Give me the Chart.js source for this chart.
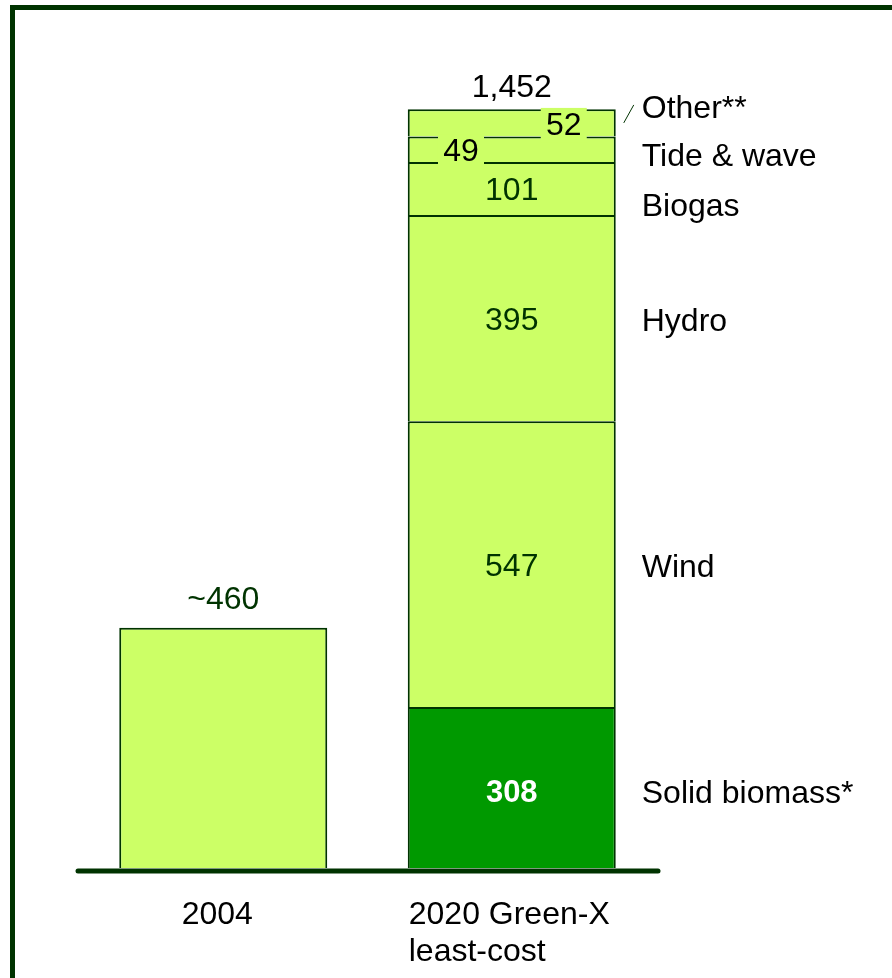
<!DOCTYPE html>
<html>
<head>
<meta charset="utf-8">
<script src="https://cdn.jsdelivr.net/npm/chart.js@4/dist/chart.umd.min.js"></script>
<style>
  html, body { margin: 0; padding: 0; background: #fff; overflow: hidden; }
  .frame {
    position: absolute; left: 10px; top: 5px;
    width: 900px; height: 1000px;
    border: 5px solid #003300;
  }
  #chart { position: absolute; left: 0; top: 0; }
</style>
</head>
<body>
<div class="frame"></div>
<canvas id="chart" width="892" height="978"></canvas>
<script>
// data
var categories = ["2004", ["2020 Green-X", "least-cost"]];
var total2004 = 460;
var sources = ["Solid biomass*", "Wind", "Hydro", "Biogas", "Tide & wave", "Other**"];
var values2020 = [308, 547, 395, 101, 49, 52];
var topLabels = ["~460", "1,452"];

var LIGHT = "#CCFF66";
var DARK = "#009900";
var LINE = "#003300";
var FONT = "32px 'Liberation Sans', Arial, sans-serif";

// nudges for the right-hand names (small segments are spread apart)
var nameShift = [7, 4, 4, 19, 8, -14];

var datasets = [{
    label: "2004",
    data: [total2004, null],
    backgroundColor: LIGHT
}];
sources.forEach(function(s, i) {
    datasets.push({
        label: s,
        data: [null, values2020[i]],
        backgroundColor: i === 0 ? DARK : LIGHT
    });
});
datasets.forEach(function(d) {
    d.borderColor = LINE;
    d.borderWidth = 2;
    d.borderSkipped = "start";
    d.categoryPercentage = 1;
    d.barPercentage = 0.721;
});

var labelsPlugin = {
    id: "labels",
    afterDatasetsDraw: function(chart) {
        var ctx = chart.ctx;
        var area = chart.chartArea;
        var y0 = chart.scales.y.getPixelForValue(0);
        ctx.save();
        ctx.font = FONT;
        ctx.textBaseline = "middle";

        // segment values and names
        for (var i = 1; i < chart.data.datasets.length; i++) {
            var el = chart.getDatasetMeta(i).data[1];
            var left = el.x - el.width / 2, right = el.x + el.width / 2;
            var mid = (el.y + el.base) / 2;
            var k = i - 1;
            var txt = String(values2020[k]);
            var tx = el.x, ty = mid + 3;
            if (k === 0) ty = mid + 6;
            if (k === 4) tx = left + el.width * 0.256;
            if (k === 5) tx = left + el.width * 0.75;
            if (k >= 4) {
                ctx.fillStyle = LIGHT;
                ctx.fillRect(tx - 23, ty - 18, 46, 35);
                ctx.fillStyle = "#000";
                ctx.font = FONT;
            } else if (k === 0) {
                ctx.fillStyle = "#fff";
                ctx.font = "bold 31px 'Liberation Sans', Arial, sans-serif";
            } else {
                ctx.fillStyle = LINE;
                ctx.font = FONT;
            }
            ctx.textAlign = "center";
            ctx.fillText(txt, tx, ty);

            ctx.font = FONT;
            ctx.fillStyle = "#000";
            ctx.textAlign = "left";
            ctx.fillText(sources[k], right + 26, mid + nameShift[k]);

            if (k === 5) {
                ctx.strokeStyle = LINE;
                ctx.lineWidth = 1;
                ctx.beginPath();
                ctx.moveTo(right + 8, mid);
                ctx.lineTo(right + 18, mid - 18);
                ctx.stroke();
            }
        }

        // totals above the bars
        ctx.textAlign = "center";
        ctx.textBaseline = "alphabetic";
        var b1 = chart.getDatasetMeta(0).data[0];
        ctx.fillStyle = LINE;
        ctx.fillText(topLabels[0], b1.x, b1.y - 19);
        var top = chart.getDatasetMeta(sources.length).data[1];
        ctx.fillStyle = "#000";
        ctx.fillText(topLabels[1], chart.getDatasetMeta(1).data[1].x, top.y - 12);

        // baseline
        ctx.strokeStyle = LINE;
        ctx.lineWidth = 5;
        ctx.lineCap = "round";
        ctx.beginPath();
        ctx.moveTo(area.left - 1, y0 + 3);
        ctx.lineTo(area.right + 2, y0 + 3);
        ctx.stroke();

        // category names
        ctx.fillStyle = "#000";
        ctx.textBaseline = "middle";
        var c1 = chart.getDatasetMeta(0).data[0];
        ctx.textAlign = "center";
        ctx.fillText(categories[0], c1.x - 6, y0 + 47);
        var c2 = chart.getDatasetMeta(1).data[1];
        ctx.textAlign = "left";
        categories[1].forEach(function(line, j) {
            ctx.fillText(line, c2.x - c2.width / 2 + 1, y0 + 47 + j * 37);
        });
        ctx.restore();
    }
};

var chart = new Chart(document.getElementById("chart").getContext("2d"), {
    type: "bar",
    data: { labels: categories, datasets: datasets },
    options: {
        responsive: false,
        animation: false,
        devicePixelRatio: 1,
        layout: { padding: { left: 79, right: 236, top: 32, bottom: 110 } },
        plugins: { legend: { display: false }, tooltip: { enabled: false } },
        scales: {
            x: { stacked: true, display: false },
            y: { stacked: true, display: false, min: 0, max: 1600 }
        }
    },
    plugins: [labelsPlugin]
});
</script>
</body>
</html>
